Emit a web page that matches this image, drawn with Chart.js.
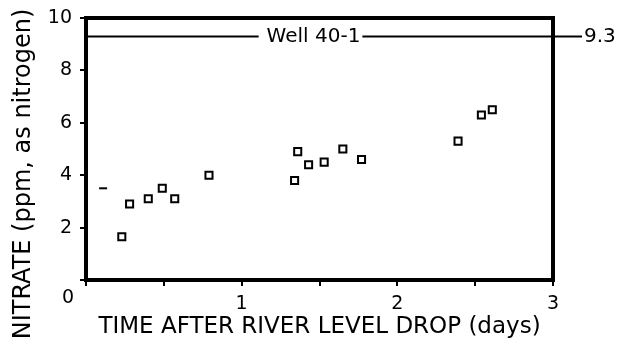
<!DOCTYPE html>
<html lang="en">
  <head>
    <title>Nitrate, Well 40-1</title>
    <meta charset="UTF-8" />
    <style>
      html, body { margin: 0; padding: 0; background: #fff; }
      .wrap { width: 618px; height: 343px; }
    </style>
  </head>
  <body>
    <div class="wrap">
      <canvas id="myChart" width="618" height="343"></canvas>
    </div>
    <script src="https://cdn.jsdelivr.net/npm/chart.js@4"></script>
    <script>
      // values
      var days = [0.23, 0.28, 0.40, 0.49, 0.57, 0.79, 1.34, 1.36, 1.43, 1.53, 1.65, 1.77, 2.39, 2.54, 2.61];
      var nitrate = [1.65, 2.9, 3.1, 3.5, 3.1, 4.0, 3.8, 4.9, 4.4, 4.5, 5.0, 4.6, 5.3, 6.3, 6.5];
      var dashDays = [0.11];
      var dashNitrate = [3.5];
      var xTicks = [0, 1, 2, 3];
      var yTicks = [0, 2, 4, 6, 8, 10];
      var wellName = "Well 40-1";
      var wellLevel = 9.3;

      var font = "DejaVu Sans";

      // frame, reference line, the shared "0" and the y title
      var extras = {
        id: "extras",
        afterDraw: function (chart) {
          var ctx = chart.ctx;
          var a = chart.chartArea;
          var xs = chart.scales.x;
          var ys = chart.scales.y;
          ctx.save();
          ctx.strokeStyle = "#000";
          ctx.fillStyle = "#000";

          // box
          ctx.lineWidth = 4;
          ctx.strokeRect(a.left, a.top, a.right - a.left, a.bottom - a.top);

          // well line with label
          var y = Math.round(ys.getPixelForValue(wellLevel)) + 0.5;
          ctx.font = "20px '" + font + "'";
          ctx.textBaseline = "middle";
          var w = ctx.measureText(wellName).width;
          var mid = xs.getPixelForValue(1.5) - 6;
          var t0 = mid - w / 2;
          ctx.lineWidth = 2;
          ctx.beginPath();
          ctx.moveTo(a.left, y);
          ctx.lineTo(t0 - 8, y);
          ctx.moveTo(t0 + w + 2, y);
          ctx.lineTo(a.right + 29, y);
          ctx.stroke();
          ctx.textAlign = "left";
          ctx.fillText(wellName, t0, y);
          ctx.fillText(String(wellLevel), a.right + 31, y);

          // "0" sits below-left of the origin
          ctx.font = "19px '" + font + "'";
          ctx.textAlign = "center";
          ctx.fillText("0", a.left - 18, a.bottom + 18);

          // y title
          ctx.font = "24px '" + font + "'";
          ctx.translate(24, 174);
          ctx.rotate(-Math.PI / 2);
          ctx.fillText("NITRATE (ppm, as nitrogen)", 0, 0);
          ctx.restore();
        },
      };

      var ctx = document.getElementById("myChart");
      var myChart = new Chart(ctx, {
        type: "scatter",
        data: {
          datasets: [
            {
              data: days.map(function (d, i) { return { x: d, y: nitrate[i] }; }),
              pointStyle: "rect",
              radius: 5,
              borderWidth: 2,
              borderColor: "#000",
              backgroundColor: "#fff",
            },
            {
              data: dashDays.map(function (d, i) { return { x: d, y: dashNitrate[i] }; }),
              pointStyle: "line",
              radius: 4,
              borderWidth: 2,
              borderColor: "#000",
            },
          ],
        },
        options: {
          responsive: false,
          animation: false,
          events: [],
          layout: { padding: { top: 18, right: 65, left: 0, bottom: 0 } },
          plugins: { legend: { display: false }, tooltip: { enabled: false } },
          scales: {
            x: {
              type: "linear",
              min: 0,
              max: 3,
              afterFit: function (s) { s.height = 63; s.paddingLeft = 0; s.paddingRight = 0; },
              afterBuildTicks: function (s) {
                s.ticks = [0, 0.5, 1, 1.5, 2, 2.5, 3].map(function (v) { return { value: v }; });
              },
              ticks: {
                color: "#000",
                font: { family: font, size: 19 },
                padding: 7,
                maxRotation: 0,
                callback: function (v) { return xTicks.indexOf(v) > 0 ? String(v) : ""; },
              },
              grid: { drawOnChartArea: false, color: "#000", lineWidth: 2, tickLength: 6 },
              border: { display: false },
              title: {
                display: true,
                text: "TIME AFTER RIVER LEVEL DROP (days)",
                color: "#000",
                font: { family: font, size: 23 },
                padding: { top: 0, bottom: 2 },
              },
            },
            y: {
              type: "linear",
              min: 0,
              max: 10,
              afterFit: function (s) { s.width = 86; s.paddingTop = 0; s.paddingBottom = 0; },
              afterBuildTicks: function (s) {
                s.ticks = yTicks.map(function (v) { return { value: v }; });
              },
              ticks: {
                color: "#000",
                font: { family: font, size: 19 },
                padding: 8,
                callback: function (v) { return v === 0 ? "" : String(v); },
              },
              grid: { drawOnChartArea: false, color: "#000", lineWidth: 2, tickLength: 6 },
              border: { display: false },
            },
          },
        },
        plugins: [extras],
      });
    </script>
  </body>
</html>
